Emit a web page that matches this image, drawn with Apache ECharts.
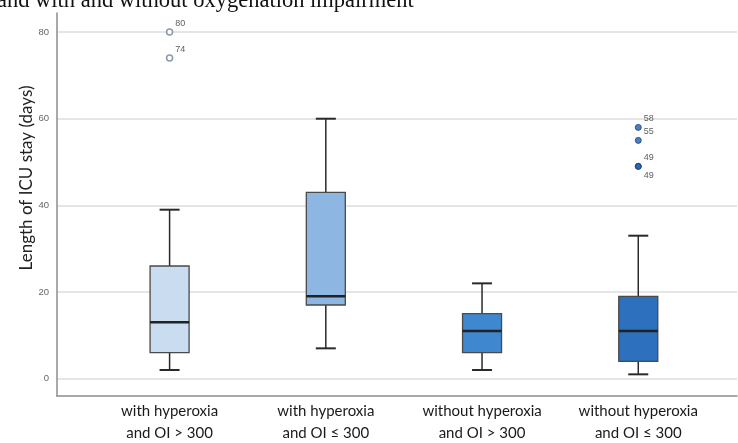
<!DOCTYPE html>
<html>
<head>
<meta charset="utf-8">
<script src="https://cdn.jsdelivr.net/npm/echarts@6/dist/echarts.min.js"></script>
<style>html,body{margin:0;padding:0;background:#fff}#c{width:738px;height:443px}</style>
</head>
<body>
<div id="c"></div>
<script>
// ---- data ----
const categories = ['with hyperoxia\nand OI > 300', 'with hyperoxia\nand OI \u2264 300', 'without hyperoxia\nand OI > 300', 'without hyperoxia\nand OI \u2264 300'];
// [min whisker, Q1, median, Q3, max whisker]
const boxStats = [
  [2, 6, 13, 26, 39],
  [7, 17, 19, 43, 60],
  [2, 6, 11, 15, 22],
  [1, 4, 11, 19, 33]
];
const outliersGroup1 = [80, 74];      // category 0
const outliersGroup4 = [58, 55, 49, 49]; // category 3
const yTicks = [0, 20, 40, 60, 80];
const boxColors = ['#c9dcf0', '#8db6e3', '#3f88cf', '#2d70bd'];

const chart = echarts.init(document.getElementById('c'), null, {renderer: 'canvas'});

const boxData = boxStats.map((s, i) => [i].concat(s));

function renderBox(params, api) {
  const x = api.value(0);
  const lo = api.coord([x, api.value(1)]);
  const q1 = api.coord([x, api.value(2)]);
  const md = api.coord([x, api.value(3)]);
  const q3 = api.coord([x, api.value(4)]);
  const hi = api.coord([x, api.value(5)]);
  const cx = lo[0];
  const hw = 19.5, cap = 10;
  const lineStyle = {stroke: '#2a2a2a', lineWidth: 1.5};
  return {
    type: 'group',
    children: [
      {type: 'line', shape: {x1: cx, y1: hi[1], x2: cx, y2: q3[1]}, style: lineStyle},
      {type: 'line', shape: {x1: cx, y1: q1[1], x2: cx, y2: lo[1]}, style: lineStyle},
      {type: 'line', shape: {x1: cx - cap, y1: hi[1], x2: cx + cap, y2: hi[1]}, style: {stroke: '#2a2a2a', lineWidth: 2}},
      {type: 'line', shape: {x1: cx - cap, y1: lo[1], x2: cx + cap, y2: lo[1]}, style: {stroke: '#2a2a2a', lineWidth: 2}},
      {type: 'rect', shape: {x: cx - hw, y: q3[1], width: hw * 2, height: q1[1] - q3[1]},
        style: {fill: boxColors[params.dataIndex], stroke: '#4a4a4a', lineWidth: 1.3}},
      {type: 'line', shape: {x1: cx - hw, y1: md[1], x2: cx + hw, y2: md[1]}, style: {stroke: '#222', lineWidth: 2.5}}
    ]
  };
}

function outlierData(cat, vals) {
  const seen = {};
  return vals.map(v => {
    const dup = seen[v];
    seen[v] = true;
    return {value: [cat, v], label: {offset: dup ? [0, 9] : [0, -9]}};
  });
}

chart.setOption({
  animation: false,
  grid: {left: 57, right: 1, top: 13, bottom: 47, outerBoundsMode: 'none', containLabel: false},
  xAxis: {
    type: 'value', min: -0.7207, max: 3.632,
    axisLine: {show: true, onZero: false, lineStyle: {color: '#8c8c8c', width: 1.5}},
    axisTick: {show: false},
    splitLine: {show: false},
    axisLabel: {
      customValues: [0, 1, 2, 3],
      formatter: v => categories[Math.round(v)],
      fontFamily: 'Lato', fontSize: 15, color: '#1a1a1a', lineHeight: 22, margin: 4
    }
  },
  yAxis: {
    type: 'value', min: -4, max: 84.4,
    axisLine: {show: true, onZero: false, lineStyle: {color: '#8c8c8c', width: 1.5}},
    axisTick: {show: false, customValues: yTicks},
    splitLine: {show: true, lineStyle: {color: '#dcdcdc', width: 1.5}},
    axisLabel: {customValues: yTicks, fontFamily: 'Liberation Sans', fontSize: 9.5, color: '#666', margin: 8}
  },
  graphic: [
    {type: 'text', x: -3, y: 12.5, silent: true,
      style: {text: 'and with and without oxygenation impairment', font: '22.5px "Liberation Serif"', fill: '#111', verticalAlign: 'bottom', align: 'left'}},
    {type: 'text', x: 27, y: 178, rotation: Math.PI / 2, silent: true,
      style: {text: 'Length of ICU stay (days)', font: '17px Lato', fill: '#222', align: 'center', verticalAlign: 'middle'}}
  ],
  series: [
    {type: 'custom', renderItem: renderBox, data: boxData, encode: {x: 0, y: [1, 2, 3, 4, 5]}},
    {type: 'scatter', data: outlierData(0, outliersGroup1), symbol: 'circle', symbolSize: 6,
      itemStyle: {color: '#fff', borderColor: '#6e7f96', borderWidth: 1.5},
      label: {show: true, position: 'right', distance: 2, formatter: p => p.value[1], fontFamily: 'Liberation Sans', fontSize: 9, color: '#333'}},
    {type: 'scatter', data: outlierData(3, outliersGroup4), symbol: 'circle', symbolSize: 6,
      itemStyle: {color: '#1f5fb0', borderColor: '#1b3f73', borderWidth: 1},
      label: {show: true, position: 'right', distance: 2, formatter: p => p.value[1], fontFamily: 'Liberation Sans', fontSize: 9, color: '#333'}}
  ]
});
</script>
</body>
</html>
